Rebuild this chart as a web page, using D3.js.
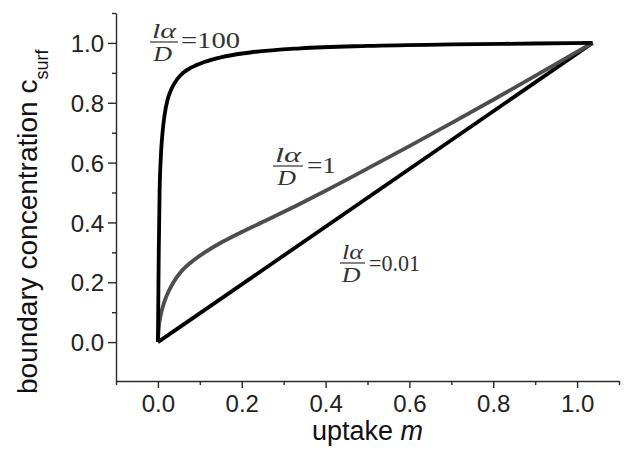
<!DOCTYPE html>
<html>
<head>
<meta charset="utf-8">
<script src="https://cdn.jsdelivr.net/npm/d3@7"></script>
<style>
  body { margin: 0; background: #fff; }
  svg { display: block; }
</style>
</head>
<body>
<svg width="642" height="450"></svg>
<script>
// curve values: uptake m, boundary concentration c
var m100 = [0, 0.002, 0.004, 0.007, 0.011, 0.016, 0.023, 0.032, 0.045, 0.06, 0.08, 0.11, 0.15, 0.22, 0.34, 0.5, 0.7, 0.9, 1.037];
var c100 = [0, 0.3, 0.5, 0.62, 0.7, 0.76, 0.81, 0.845, 0.877, 0.9, 0.918, 0.936, 0.952, 0.968, 0.982, 0.99, 0.995, 0.998, 1.0];

var m1 = [0, 0.002, 0.006, 0.012, 0.02, 0.035, 0.055, 0.08, 0.11, 0.15, 0.2, 0.26, 0.33, 0.4, 0.5, 0.6, 0.7, 0.8, 0.9, 1.037];
var c1 = [0, 0.045, 0.085, 0.12, 0.152, 0.195, 0.235, 0.268, 0.298, 0.332, 0.368, 0.408, 0.456, 0.506, 0.58, 0.655, 0.732, 0.81, 0.89, 1.0];

var m001 = [0, 1.037];
var c001 = [0, 1.0];

var xTicks = [0, 0.2, 0.4, 0.6, 0.8, 1.0];
var yTicks = [0, 0.2, 0.4, 0.6, 0.8, 1.0];
var xMinor = [-0.1, 0.1, 0.3, 0.5, 0.7, 0.9, 1.1];
var yMinor = [0.1, 0.3, 0.5, 0.7, 0.9, 1.1];

var ratioLabels = ["100", "1", "0.01"];

var svg = d3.select("svg");

var x = d3.scaleLinear().domain([-0.1, 1.1]).range([116, 619]);
var y = d3.scaleLinear().domain([-0.13, 1.1]).range([381, 13]);

var axisColor = "#2a2a2a";

// curves
var line = d3.line()
  .x(function(d) { return x(d[0]); })
  .y(function(d) { return y(d[1]); })
  .curve(d3.curveMonotoneX);

var series = [
  { m: m001, c: c001, color: "#000" },
  { m: m1, c: c1, color: "#4d4d4d" },
  { m: m100, c: c100, color: "#000" }
];

svg.selectAll("path.curve")
  .data(series)
  .enter()
  .append("path")
  .attr("class", "curve")
  .attr("d", function(s) { return line(d3.zip(s.m, s.c)); })
  .attr("fill", "none")
  .attr("stroke", function(s) { return s.color; })
  .attr("stroke-width", 3.8)
  .attr("stroke-linejoin", "miter");

// x axis
var xAxis = svg.append("g")
  .attr("transform", "translate(0," + y(-0.13) + ")")
  .call(d3.axisBottom(x).tickValues(xTicks).tickFormat(d3.format(".1f")).tickSize(7).tickSizeOuter(0));

svg.append("g")
  .attr("transform", "translate(0," + y(-0.13) + ")")
  .call(d3.axisBottom(x).tickValues(xMinor).tickFormat("").tickSize(4).tickSizeOuter(0))
  .select(".domain").remove();

// y axis
var yAxis = svg.append("g")
  .attr("transform", "translate(" + x(-0.1) + ",0)")
  .call(d3.axisLeft(y).tickValues(yTicks).tickFormat(d3.format(".1f")).tickSize(8).tickSizeOuter(0));

svg.append("g")
  .attr("transform", "translate(" + x(-0.1) + ",0)")
  .call(d3.axisLeft(y).tickValues(yMinor).tickFormat("").tickSize(4).tickSizeOuter(0))
  .select(".domain").remove();

svg.selectAll(".tick line, .domain")
  .attr("stroke", axisColor)
  .attr("stroke-width", 1.4);

xAxis.selectAll(".tick text")
  .attr("font-family", "Liberation Sans, Arial, sans-serif")
  .attr("font-size", 24)
  .attr("fill", "#222")
  .attr("dy", "0.78em")
  .attr("y", 12);

yAxis.selectAll(".tick text")
  .attr("font-family", "Liberation Sans, Arial, sans-serif")
  .attr("font-size", 24)
  .attr("fill", "#222")
  .attr("x", -12)
  .attr("dy", "0.36em");

// axis titles
var xTitle = svg.append("text")
  .attr("x", (x.range()[0] + x.range()[1]) / 2)
  .attr("y", 440)
  .attr("text-anchor", "middle")
  .attr("font-family", "Liberation Sans, Arial, sans-serif")
  .attr("font-size", 27)
  .attr("fill", "#111");
xTitle.append("tspan").text("uptake ");
xTitle.append("tspan").attr("font-style", "italic").text("m");

var yTitle = svg.append("text")
  .attr("transform", "translate(37,394) rotate(-90)")
  .attr("text-anchor", "start")
  .attr("font-family", "Liberation Sans, Arial, sans-serif")
  .attr("font-size", 28)
  .attr("fill", "#111");
yTitle.append("tspan").text("boundary concentration c");
yTitle.append("tspan").attr("font-size", 18).attr("dy", 11).text("surf");

// ratio annotations: l alpha / D = value
// [bar left, bar right, bar y, value left, value right, value baseline]
var labelBox = [
  [150, 178, 42, 181, 240, 48],
  [273, 303, 166, 307, 336, 173],
  [340, 365, 263, 369, 420, 271]
];

var notes = svg.selectAll("g.note")
  .data(ratioLabels)
  .enter()
  .append("g")
  .attr("class", "note")
  .attr("font-family", "Liberation Serif, Times New Roman, serif")
  .attr("font-size", 20)
  .attr("fill", "#333");

notes.append("text")
  .attr("x", function(d, i) { return labelBox[i][0] + 2; })
  .attr("y", function(d, i) { return labelBox[i][2] - 4.5; })
  .attr("textLength", function(d, i) { return labelBox[i][1] - labelBox[i][0] - 4; })
  .attr("lengthAdjust", "spacingAndGlyphs")
  .attr("font-style", "italic")
  .text("l\u03b1");

notes.append("line")
  .attr("x1", function(d, i) { return labelBox[i][0]; })
  .attr("x2", function(d, i) { return labelBox[i][1]; })
  .attr("y1", function(d, i) { return labelBox[i][2]; })
  .attr("y2", function(d, i) { return labelBox[i][2]; })
  .attr("stroke", "#333")
  .attr("stroke-width", 1.2);

notes.append("text")
  .attr("x", function(d, i) { return (labelBox[i][0] + labelBox[i][1]) / 2 - 1; })
  .attr("y", function(d, i) { return labelBox[i][2] + 19.5; })
  .attr("text-anchor", "middle")
  .attr("font-style", "italic")
  .attr("transform", function(d, i) {
    var cx = (labelBox[i][0] + labelBox[i][1]) / 2;
    return "translate(" + cx + ",0) scale(1.3,1) translate(" + (-cx) + ",0)";
  })
  .text("D");

notes.append("text")
  .attr("x", function(d, i) { return labelBox[i][3]; })
  .attr("y", function(d, i) { return labelBox[i][5]; })
  .attr("font-size", 24)
  .attr("textLength", function(d, i) { return labelBox[i][4] - labelBox[i][3]; })
  .attr("lengthAdjust", "spacingAndGlyphs")
  .text(function(d) { return "=" + d; });
</script>
</body>
</html>
